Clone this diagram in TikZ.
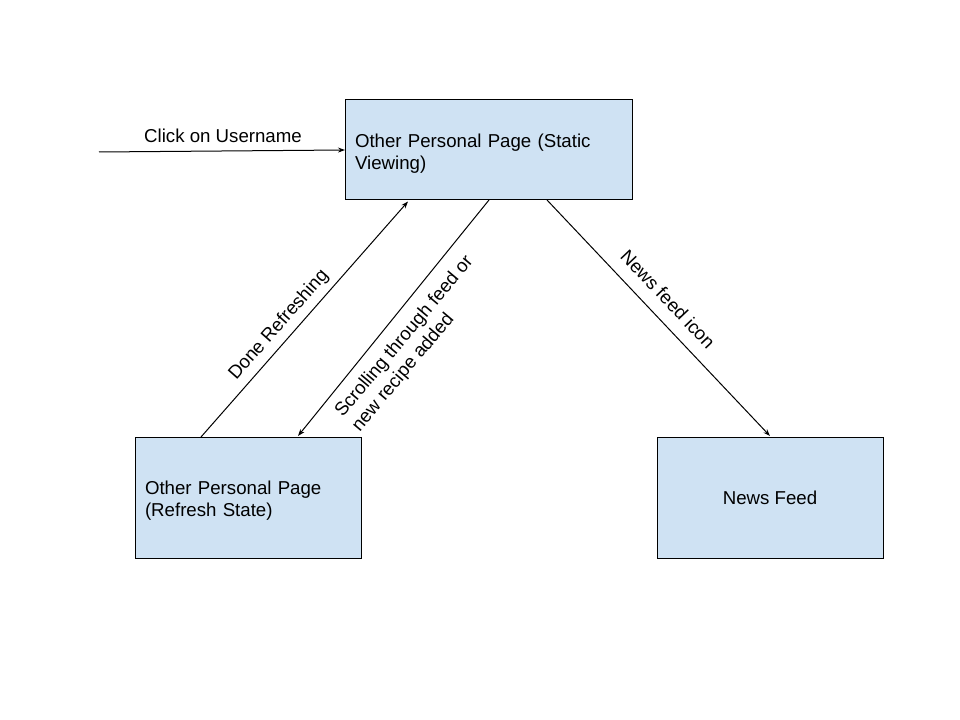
\documentclass[tikz,border=0pt]{standalone}
\usepackage{fontspec}
\setmainfont{Liberation Sans}
\usetikzlibrary{arrows.meta,calc}
\definecolor{boxblue}{HTML}{CFE2F3}
\newcommand{\topstrut}{\rule{0pt}{15pt}}
\begin{document}
\begin{tikzpicture}[x=0.75pt,y=-0.75pt,
  font=\fontsize{14}{16.5}\selectfont,
  state/.style={draw=black, line width=0.75pt, fill=boxblue, inner sep=0pt, outer sep=0pt},
  conn/.style={line width=0.75pt, -{Stealth[length=5.25pt,width=3.75pt]}},
  lbl/.style={inner sep=0pt}]
\useasboundingbox (0,0) rectangle (960,720);
\fill[white] (0,0) rectangle (960,720);

\node[state, minimum width=215.25pt, minimum height=75pt, text width=200.25pt, align=left]
  (top) at (488.5,150) {\topstrut Other Personal Page (Static\\Viewing)};
\node[state, minimum width=169.5pt, minimum height=90.75pt, text width=154.5pt, align=left]
  (refresh) at (248,497.5) {\topstrut Other Personal Page\\(Refresh State)};
\node[state, minimum width=169.5pt, minimum height=90.75pt, align=center]
  (news) at (770,497.5) {News Feed};

\coordinate (clickstart) at (99,152);
\draw[conn] (clickstart) -- (top.west);
\draw[conn] ($(refresh.north west)+(66,0)$) -- ($(top.south west)+(63,1.5)$);
\draw[conn] ($(top.south west)+(144,0)$) -- ($(refresh.north west)+(163,-1)$);
\draw[conn] ($(top.south west)+(202,0)$) -- ($(news.north west)+(113,-1)$);

\node[lbl] (lclick) at (223,136) {Click on Username};
\node[lbl, rotate=48.6] (ldone) at (279,325) {Done Refreshing};
\node[lbl, rotate=50, align=left] (lscroll) at (413,344) {Scrolling through feed or\\new recipe added};
\node[lbl, rotate=-46.6] (lnews) at (668,299) {News feed icon};
\end{tikzpicture}
\end{document}
